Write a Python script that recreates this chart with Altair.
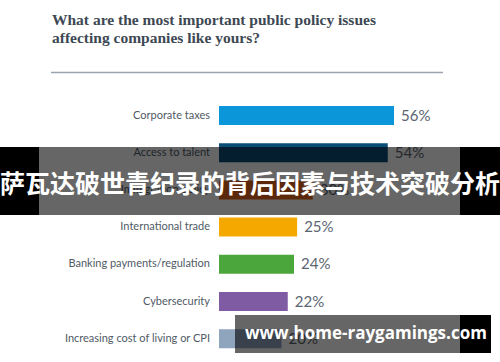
import altair as alt
import pandas as pd

categories = [
    "Corporate taxes",
    "Access to talent",
    "Immigration policy",
    "International trade",
    "Banking payments/regulation",
    "Cybersecurity",
    "Increasing cost of living or CPI",
]
values = [56, 54, 30, 25, 24, 22, 20]
palette = ["#0b96d9", "#0a4d75", "#e4651c", "#f5a900", "#4ba63b", "#7f5ba3", "#8fa5bd"]

title_lines = [
    "What are the most important public policy issues",
    "affecting companies like yours?",
]
banner_text = "萨瓦达破世青纪录的背后因素与技术突破分析"
watermark_text = "www.home-raygamings.com"

df = pd.DataFrame({
    "category": categories,
    "value": values,
    "label": [f"{v}%" for v in values],
})

W, H = 500, 362

yscale = alt.Scale(domain=categories, range=[96.9, 357.3], paddingInner=0.49, paddingOuter=0.245)
xscale = alt.Scale(domain=[0, 100], range=[219, 531.5])

base = alt.Chart(df)

bars = base.mark_bar().encode(
    x=alt.X("value:Q", scale=xscale, axis=None),
    x2=alt.X2(datum=0),
    y=alt.Y("category:N", scale=yscale, axis=None, sort=categories),
    color=alt.Color("category:N", scale=alt.Scale(domain=categories, range=palette), legend=None),
)

cat_labels = base.mark_text(
    align="right", baseline="middle", font="Lato", fontSize=11, color="#4f5a65"
).encode(
    x=alt.value(210),
    y=alt.Y("category:N", scale=yscale, axis=None, sort=categories, bandPosition=0.5),
    text="category:N",
)

val_labels = base.mark_text(
    align="left", baseline="middle", font="Lato", fontSize=15, color="#5b6570", dx=7
).encode(
    x=alt.X("value:Q", scale=xscale, axis=None),
    y=alt.Y("category:N", scale=yscale, axis=None, sort=categories, bandPosition=0.5),
    text="label:N",
)

one = pd.DataFrame({"a": [0]})

title1 = alt.Chart(one).mark_text(
    align="left", baseline="middle", font="Liberation Serif", fontWeight="bold",
    fontSize=15.5, color="#3d4853", text=title_lines[0]
).encode(x=alt.value(52), y=alt.value(19.5))
title2 = alt.Chart(one).mark_text(
    align="left", baseline="middle", font="Liberation Serif", fontWeight="bold",
    fontSize=15.5, color="#3d4853", text=title_lines[1]
).encode(x=alt.value(52), y=alt.value(37.5))

rule = alt.Chart(one).mark_rule(color="#9aa4ae", strokeWidth=1.5).encode(
    x=alt.value(51), x2=alt.value(443), y=alt.value(72.5)
)


def box(x, x2, y, y2, op):
    return alt.Chart(one).mark_rect(color="black", opacity=op).encode(
        x=alt.value(x), x2=alt.value(x2), y=alt.value(y), y2=alt.value(y2)
    )


overlays = [
    box(0, 39, 147, 215, 1.0),
    box(39, 460, 147, 215, 0.6),
    box(460, 500, 147, 215, 1.0),
    box(235, 460, 315, 353, 0.6),
    box(460, 491, 315, 353, 1.0),
]

banner = alt.Chart(one).mark_text(
    align="center", baseline="middle", font="Noto Sans CJK SC", fontWeight="bold",
    fontSize=25, color="white", text=banner_text
).encode(x=alt.value(250), y=alt.value(185))

wm = alt.Chart(one).mark_text(
    align="left", baseline="middle", font="Open Sans", fontWeight="bold",
    fontSize=17, color="white", text=watermark_text
).encode(x=alt.value(245), y=alt.value(334))

chart = alt.layer(bars, cat_labels, val_labels, title1, title2, rule, *overlays, banner, wm).resolve_scale(
    x="independent", y="independent"
).properties(
    width=W, height=H, padding=0, autosize=alt.AutoSizeParams(type="none"), background="white"
).configure_view(stroke=None)

chart.save("out.html", embed_options={"renderer": "svg", "actions": False})
